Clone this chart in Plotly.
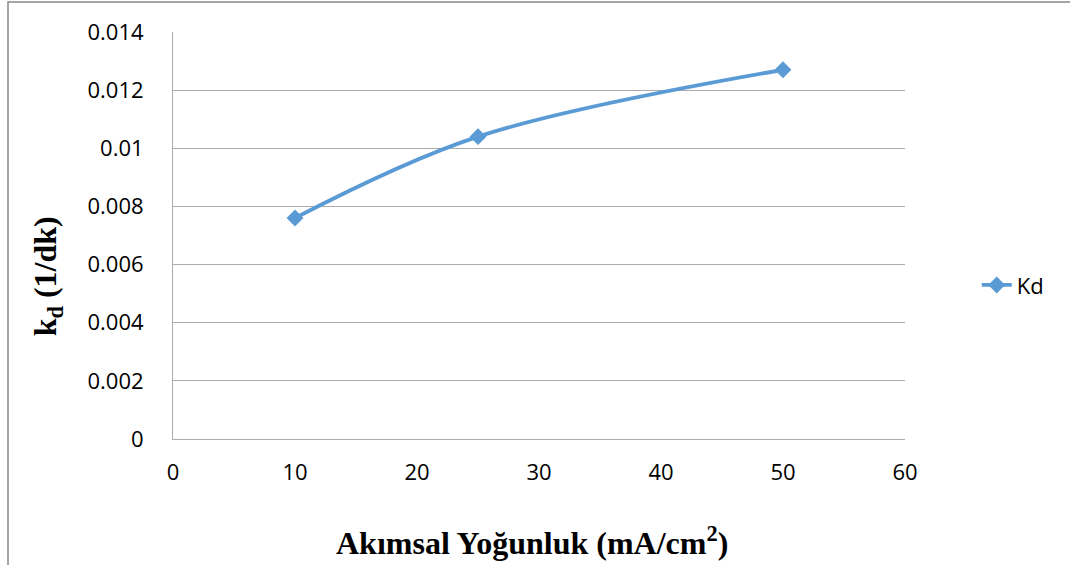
import plotly.graph_objects as go

# Current density (mA/cm2) and decay constant kd (1/min)
current_density = [10, 25, 50]
kd_values = [0.0076, 0.0104, 0.0127]
series_name = "Kd"

x_ticks = [0, 10, 20, 30, 40, 50, 60]
y_ticks = [0, 0.002, 0.004, 0.006, 0.008, 0.01, 0.012, 0.014]
y_tick_text = ["0", "0.002", "0.004", "0.006", "0.008", "0.01", "0.012", "0.014"]

BLUE = "#5B9BD5"
GRID = "#ABABAB"
TICK_FONT = dict(family="Open Sans, Lato, sans-serif", size=22, color="#000000")
TITLE_FONT = dict(family="Liberation Serif, Times New Roman, serif", size=32, color="#000000")

fig = go.Figure()
fig.add_trace(go.Scatter(
    x=current_density, y=kd_values, name=series_name,
    mode="lines+markers",
    line=dict(color=BLUE, width=3.8, shape="spline", smoothing=1.0),
    marker=dict(symbol="diamond", size=13, color=BLUE),
))

fig.update_layout(
    width=1070, height=565,
    margin=dict(l=173, r=165, t=32, b=126),
    paper_bgcolor="white", plot_bgcolor="white",
    showlegend=True,
    legend=dict(x=1.098, y=0.378, xanchor="left", yanchor="middle",
                font=TICK_FONT, bgcolor="rgba(0,0,0,0)"),
    xaxis=dict(range=[0, 60], tickvals=x_ticks, showgrid=False,
               showline=True, linecolor=GRID, linewidth=1, zeroline=False,
               ticks="", tickfont=TICK_FONT, ticklabelstandoff=14),
    yaxis=dict(range=[0, 0.014], tickvals=y_ticks, ticktext=y_tick_text,
               showgrid=True, gridcolor=GRID, gridwidth=1,
               showline=True, linecolor=GRID, linewidth=1, zeroline=False,
               ticks="", tickfont=TICK_FONT, ticklabelstandoff=24),
    annotations=[
        dict(text="<b>Akımsal Yoğunluk (mA/cm<sup>2</sup>)</b>",
             xref="paper", yref="paper",
             x=0.49, y=-0.251, xanchor="center", yanchor="middle", showarrow=False,
             font=TITLE_FONT),
        dict(text="<b>k<sub>d</sub> (1/dk)</b>", xref="paper", yref="paper",
             x=-0.172, y=0.4, xanchor="center", yanchor="middle", showarrow=False,
             textangle=-90, font=TITLE_FONT),
    ],
    shapes=[
        # outer chart frame (top and left edges)
        dict(type="path", xref="paper", yref="paper",
             path="M -0.2254,-0.32 L -0.2254,1.0737 L 1.24,1.0737",
             line=dict(color="#888888", width=1.5)),
    ],
)

fig.write_html("out.html")
